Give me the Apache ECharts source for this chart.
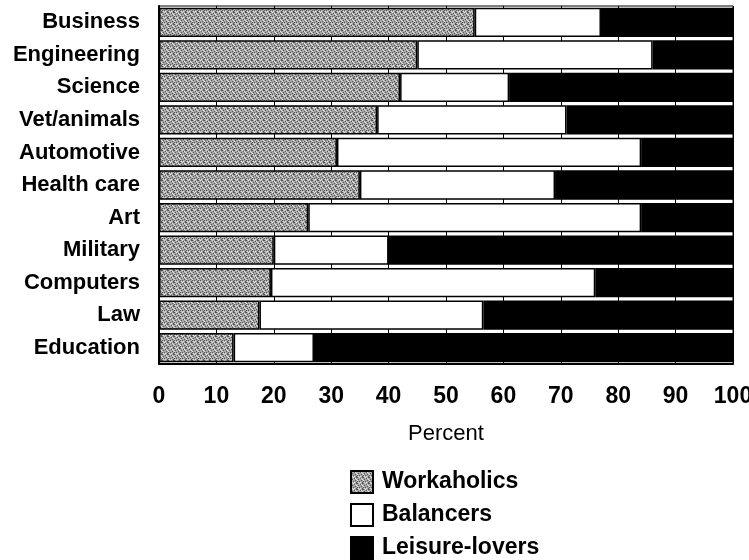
<!DOCTYPE html>
<html>
<head>
<meta charset="utf-8">
<script src="https://cdn.jsdelivr.net/npm/echarts@6/dist/echarts.min.js"></script>
<style>
  html, body { margin: 0; padding: 0; background: #fff; }
  #chart { width: 749px; height: 560px; }
</style>
</head>
<body>
<div id="chart"></div>
<script>
// Career fields, top to bottom
const categories = ['Business', 'Engineering', 'Science', 'Vet/animals', 'Automotive',
  'Health care', 'Art', 'Military', 'Computers', 'Law', 'Education'];

// Share of each group per field (percent)
const workaholics   = [55, 45, 42, 38, 31, 35, 26, 20, 19.5, 17.5, 13];
const balancers     = [22, 41, 19, 33, 53, 34, 58, 20, 56.5, 39, 14];
const leisureLovers = [23, 14, 39, 29, 16, 31, 16, 60, 24, 43.5, 73];

const xTicks = { min: 0, max: 100, interval: 10 };

// Stippled gray fill for the workaholics bars
function stipple() {
  const c = document.createElement('canvas');
  c.width = 6; c.height = 6;
  const ctx = c.getContext('2d');
  ctx.fillStyle = '#a6a6a6';
  ctx.fillRect(0, 0, 6, 6);
  ctx.fillStyle = '#555';
  [[0, 0], [3, 1], [1, 2], [4, 3], [2, 4], [5, 5], [5, 0], [0, 4]].forEach(p => ctx.fillRect(p[0], p[1], 1, 1));
  ctx.fillStyle = '#e2e2e2';
  [[2, 0], [5, 2], [0, 3], [3, 5], [1, 5], [4, 1]].forEach(p => ctx.fillRect(p[0], p[1], 1, 1));
  return c;
}

const chart = echarts.init(document.getElementById('chart'), null, { renderer: 'canvas' });

const barBase = {
  type: 'bar',
  stack: 'total',
  barCategoryGap: '10%',
  emphasis: { disabled: true }
};

chart.setOption({
  animation: false,
  grid: {
    left: 159, right: 16, top: 6, bottom: 196,
    outerBoundsMode: 'none',
    containLabel: false,
    show: true, borderColor: '#000', borderWidth: 1
  },
  legend: {
    orient: 'vertical',
    left: 350, top: 470,
    width: 260, height: 120,
    padding: 0,
    itemWidth: 22, itemHeight: 22, itemGap: 9,
    icon: 'rect',
    textStyle: { fontFamily: 'Liberation Sans, Arial, sans-serif', fontWeight: 'bold', fontSize: 23, lineHeight: 22, color: '#000', padding: [0, 0, 0, 4] },
    data: ['Workaholics', 'Balancers', 'Leisure-lovers']
  },
  xAxis: {
    type: 'value',
    min: xTicks.min, max: xTicks.max, interval: xTicks.interval,
    name: 'Percent',
    nameLocation: 'middle',
    nameGap: 70,
    nameTextStyle: { fontFamily: 'Liberation Sans, Arial, sans-serif', fontSize: 22, color: '#000', verticalAlign: 'middle' },
    axisLine: { show: true, lineStyle: { color: '#000', width: 2 } },
    axisTick: { show: false },
    axisLabel: {
      margin: 21,
      fontFamily: 'Liberation Sans Narrow, Arial Narrow, Liberation Sans, sans-serif',
      fontWeight: 'bold', fontSize: 23, color: '#000'
    },
    splitLine: { show: true, lineStyle: { color: '#000', width: 1 } }
  },
  yAxis: {
    type: 'category',
    inverse: true,
    data: categories,
    axisLine: { show: true, lineStyle: { color: '#000', width: 2 } },
    axisTick: { show: false },
    axisLabel: {
      margin: 19,
      fontFamily: 'Liberation Sans, Arial, sans-serif',
      fontWeight: 'bold', fontSize: 22, color: '#000'
    }
  },
  series: [
    Object.assign({}, barBase, {
      name: 'Workaholics',
      data: workaholics,
      itemStyle: { color: { image: stipple(), repeat: 'repeat' }, borderColor: '#000', borderWidth: 1.5 }
    }),
    Object.assign({}, barBase, {
      name: 'Balancers',
      data: balancers,
      itemStyle: { color: '#fff', borderColor: '#000', borderWidth: 1.5 }
    }),
    Object.assign({}, barBase, {
      name: 'Leisure-lovers',
      data: leisureLovers,
      itemStyle: { color: '#000', borderColor: '#000', borderWidth: 1.5 }
    })
  ]
});
</script>
</body>
</html>
